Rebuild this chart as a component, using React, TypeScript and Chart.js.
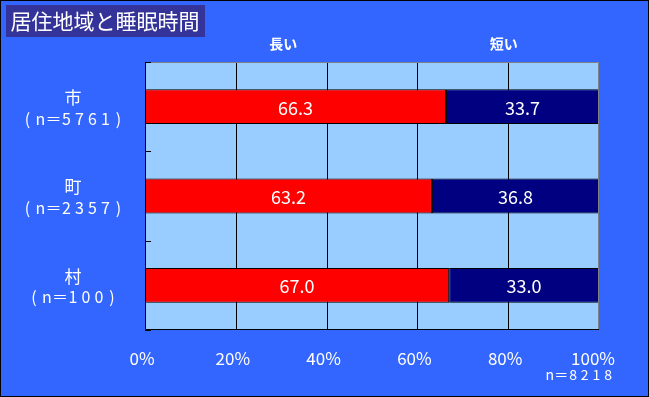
import React, { useEffect, useRef } from "react";
import { Chart, registerables } from "chart.js";

Chart.register(...registerables);

const TITLE = "居住地域と睡眠時間";
const categories = ["市", "町", "村"];
const counts = ["(n＝5761)", "(n＝2357)", "(n＝100)"];
const seriesNames = ["長い", "短い"];
const longValues = [66.3, 63.2, 67.0];
const shortValues = [33.7, 36.8, 33.0];
const xTicks = [0, 20, 40, 60, 80, 100];
const totalNote = "n＝8218";

const FONT = '"Noto Sans CJK JP", "Noto Sans", sans-serif';

function drawSpaced(ctx: any, text: string, cx: number, cy: number, cell: number, align: "center" | "right") {
  const chars = Array.from(text);
  const total = chars.length * cell;
  const start = align === "center" ? cx - total / 2 : cx - total;
  ctx.save();
  ctx.textAlign = "center";
  chars.forEach((ch, i) => {
    ctx.fillText(ch, start + cell * (i + 0.5), cy);
  });
  ctx.restore();
}

const decor = {
  id: "decor",
  beforeDraw(chart: any) {
    const { ctx, width, height, chartArea: a } = chart;
    ctx.save();
    ctx.fillStyle = "#3366FF";
    ctx.fillRect(0, 0, width, height);
    ctx.strokeStyle = "#000";
    ctx.lineWidth = 1;
    ctx.strokeRect(0.5, 0.5, width - 1, height - 1);
    // title box
    ctx.fillStyle = "#333399";
    ctx.fillRect(6, 5, 199, 32);
    ctx.fillStyle = "#fff";
    ctx.font = `21px ${FONT}`;
    ctx.textAlign = "center";
    ctx.textBaseline = "middle";
    ctx.fillText(TITLE, 105, 21);
    // plot area
    ctx.fillStyle = "#99CCFF";
    ctx.fillRect(a.left, a.top, a.right - a.left, a.bottom - a.top);
    // gridlines
    const xs = chart.scales.x;
    ctx.strokeStyle = "#000";
    ctx.beginPath();
    xTicks.forEach((t) => {
      if (t === 0 || t === 100) return;
      const px = Math.round(xs.getPixelForValue(t)) + 0.5;
      ctx.moveTo(px, a.top);
      ctx.lineTo(px, a.bottom);
    });
    ctx.stroke();
    ctx.restore();
  },
  afterDatasetsDraw(chart: any) {
    const { ctx, chartArea: a } = chart;
    const xs = chart.scales.x;
    const ys = chart.scales.y;
    ctx.save();
    // plot border
    ctx.lineWidth = 1;
    ctx.strokeStyle = "#808080";
    ctx.beginPath();
    ctx.moveTo(a.left, a.top + 0.5);
    ctx.lineTo(a.right - 0.5, a.top + 0.5);
    ctx.lineTo(a.right - 0.5, a.bottom);
    ctx.stroke();
    ctx.strokeStyle = "#000";
    ctx.beginPath();
    ctx.moveTo(a.left + 0.5, a.top);
    ctx.lineTo(a.left + 0.5, a.bottom - 0.5);
    ctx.lineTo(a.right, a.bottom - 0.5);
    ctx.stroke();
    // category boundary ticks
    const step = (a.bottom - a.top) / categories.length;
    ctx.beginPath();
    for (let i = 0; i <= categories.length; i++) {
      const c = i < categories.length ? ys.getPixelForValue(i) - step / 2 : ys.getPixelForValue(i - 1) + step / 2;
      const py = Math.round(c) + 0.5;
      ctx.moveTo(a.left, py);
      ctx.lineTo(a.left + 6, py);
    }
    ctx.stroke();
    // data labels
    ctx.fillStyle = "#fff";
    ctx.textAlign = "center";
    ctx.textBaseline = "middle";
    ctx.font = `18px ${FONT}`;
    chart.data.datasets.forEach((ds: any, di: number) => {
      const meta = chart.getDatasetMeta(di);
      meta.data.forEach((el: any, i: number) => {
        const cx = (el.x + el.base) / 2;
        ctx.fillText(Number(ds.data[i]).toFixed(1), cx, el.y + 1);
      });
    });
    // category labels
    categories.forEach((c, i) => {
      const cy = ys.getPixelForValue(i);
      ctx.font = `17px ${FONT}`;
      ctx.fillText(c, 73, cy - 9);
      ctx.font = `16px ${FONT}`;
      drawSpaced(ctx, counts[i], 73, cy + 12, 13, "center");
    });
    // x tick labels
    ctx.font = `17px ${FONT}`;
    xTicks.forEach((t) => {
      ctx.fillText(`${t}%`, xs.getPixelForValue(t) - 3 - (t === 100 ? 3 : 0), 359);
    });
    // series names
    ctx.font = `bold 14px ${FONT}`;
    ctx.fillText(seriesNames[0], xs.getPixelForValue(30) + 2, 44);
    ctx.fillText(seriesNames[1], xs.getPixelForValue(79), 44);
    // total note
    ctx.font = `14px ${FONT}`;
    drawSpaced(ctx, totalNote, 614, 375, 11.7, "right");
    ctx.restore();
  },
};

export default function App() {
  const ref = useRef<HTMLCanvasElement>(null);
  useEffect(() => {
    document.body.style.margin = "0";
    const chart = new Chart(ref.current!, {
      type: "bar",
      data: {
        labels: categories,
        datasets: [
          {
            label: seriesNames[0],
            data: longValues,
            backgroundColor: "#FF0000",
            borderColor: "#000",
            borderWidth: 1,
            borderSkipped: false,
            barPercentage: 0.39,
            categoryPercentage: 1,
          },
          {
            label: seriesNames[1],
            data: shortValues,
            backgroundColor: "#000080",
            borderColor: "#000",
            borderWidth: 1,
            borderSkipped: false,
            barPercentage: 0.39,
            categoryPercentage: 1,
          },
        ],
      },
      options: {
        indexAxis: "y",
        responsive: false,
        animation: false,
        layout: { padding: { left: 145, top: 62, right: 50, bottom: 67 } },
        plugins: { legend: { display: false }, tooltip: { enabled: false }, title: { display: false } },
        scales: {
          x: { stacked: true, min: 0, max: 100, display: false },
          y: { stacked: true, display: false },
        },
      },
      plugins: [decor],
    });
    return () => chart.destroy();
  }, []);
  return <canvas ref={ref} width={649} height={397} style={{ display: "block" }} />;
}
